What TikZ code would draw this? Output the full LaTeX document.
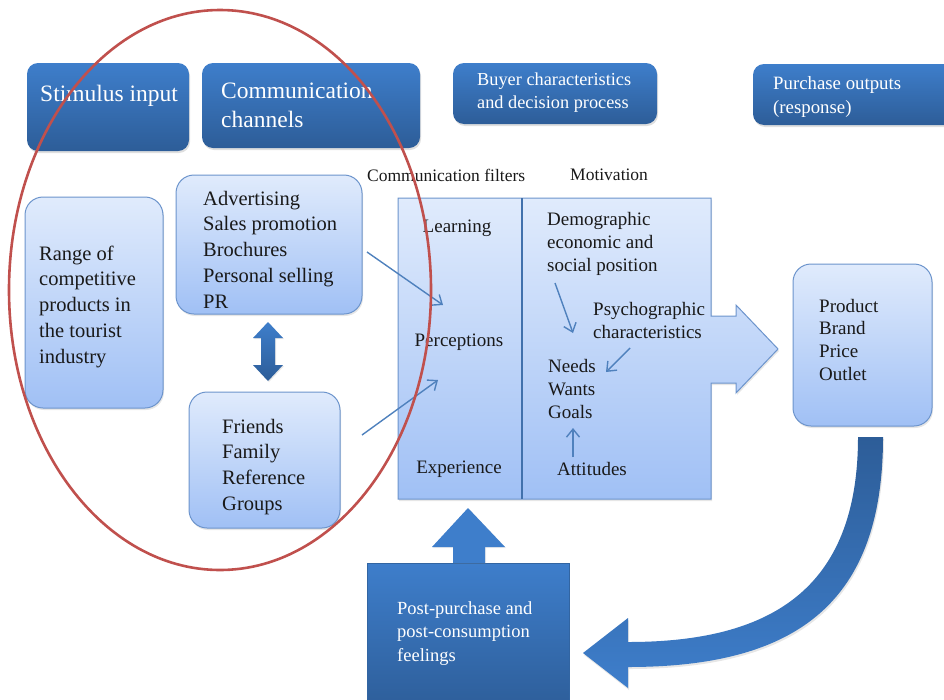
\documentclass[tikz,border=0pt]{standalone}
\usepackage{fontspec}
\setmainfont{Liberation Serif}
\usetikzlibrary{arrows.meta,shadows}
\definecolor{hdtop}{RGB}{62,126,203}
\definecolor{hdbot}{RGB}{45,93,152}
\definecolor{lttop}{RGB}{224,235,252}
\definecolor{ltbot}{RGB}{160,192,245}
\definecolor{ltborder}{RGB}{108,148,204}
\definecolor{thinc}{RGB}{79,129,189}
\definecolor{divc}{RGB}{65,113,172}
\definecolor{redring}{RGB}{192,80,77}
\definecolor{txtc}{RGB}{25,25,25}
\begin{document}
\begin{tikzpicture}[x=1pt,y=-1pt,
  hbox/.style={rectangle, rounded corners=11pt, top color=hdtop, bottom color=hdbot, draw=none,
    inner sep=0pt, outer sep=0pt, drop shadow={opacity=0.25,shadow xshift=1pt,shadow yshift=-2pt}},
  lbox/.style={rectangle, rounded corners=18pt, top color=lttop, bottom color=ltbot, draw=ltborder,
    line width=1pt, inner sep=0pt, outer sep=0pt, drop shadow={opacity=0.2,shadow xshift=1pt,shadow yshift=-2pt}},
  htxt/.style={text=white, inner sep=0pt, anchor=base west},
  body/.style={text=txtc, inner sep=0pt, anchor=base west, font=\fontsize{20.5}{26}\selectfont},
  mid/.style={text=txtc, inner sep=0pt, anchor=base west, font=\fontsize{19}{23}\selectfont},
  thinarrow/.style={draw=thinc, line width=1.4pt, -{Straight Barb[length=8pt,width=13pt]}},
  bigfill/.style={top color=hdtop, bottom color=hdbot, draw=none}
]
\useasboundingbox (0,0) rectangle (944,699);
\clip (0,0) rectangle (944,699);

% header boxes
\node[hbox, minimum width=162pt, minimum height=88pt] (stim) at (108,107) {};
\node[hbox, minimum width=218pt, minimum height=85pt] (comm) at (311,105.5) {};
\node[hbox, minimum width=204pt, minimum height=61pt] (buyer) at (555,93.5) {};
\node[hbox, minimum width=212pt, minimum height=61pt] (purch) at (859,94.5) {};

\node[htxt, font=\fontsize{23.5}{29}\selectfont] (stimT) at (40,101.7) {Stimulus input};
\node[htxt, font=\fontsize{23.5}{29}\selectfont] (commT1) at (221,98.3) {Communication};
\node[htxt, font=\fontsize{23.5}{29}\selectfont] (commT2) at (221,127) {channels};
\node[htxt, font=\fontsize{18.3}{23}\selectfont] (buyT1) at (477,85) {Buyer characteristics};
\node[htxt, font=\fontsize{18.3}{23}\selectfont] (buyT2) at (477,108) {and decision process};
\node[htxt, font=\fontsize{18.8}{23}\selectfont] (purT1) at (773,89) {Purchase outputs};
\node[htxt, font=\fontsize{18.8}{23}\selectfont] (purT2) at (773,113) {(response)};

% light boxes on the left
\node[lbox, minimum width=138pt, minimum height=211pt] (range) at (94,302.5) {};
\node[lbox, minimum width=186pt, minimum height=139pt] (adv) at (269,244.5) {};
\node[lbox, minimum width=151pt, minimum height=136pt] (friends) at (264.5,460) {};
\node[lbox, minimum width=139pt, minimum height=162pt] (product) at (862.5,345) {};

\foreach \s [count=\i] in {Range of,competitive,products in,the tourist,industry}
  \node[body] (range-\i) at (39,{260+25.8*(\i-1)}) {\s};
\foreach \s [count=\i] in {Advertising,Sales promotion,Brochures,Personal selling,PR}
  \node[body] (adv-\i) at (203,{205+25.8*(\i-1)}) {\s};
\foreach \s [count=\i] in {Friends,Family,Reference,Groups}
  \node[body] (fr-\i) at (222,{433+25.7*(\i-1)}) {\s};
\foreach \s [count=\i] in {Product,Brand,Price,Outlet}
  \node[mid] (pr-\i) at (819,{312+22.7*(\i-1)}) {\s};

% double arrow between channels
\path[bigfill, drop shadow={opacity=0.2,shadow xshift=1pt,shadow yshift=-1pt}]
  (268,322) -- (283,338) -- (275,338) -- (275,365) -- (283,365) -- (268,381)
  -- (253,365) -- (261,365) -- (261,338) -- (253,338) -- cycle;

% filters / motivation block with arrow
\path[top color=lttop, bottom color=ltbot, draw=ltborder, line width=1pt,
  drop shadow={opacity=0.2,shadow xshift=1pt,shadow yshift=-2pt}]
  (398,198) -- (711,198) -- (711,316) -- (736,316) -- (736,305) -- (778,349)
  -- (736,393) -- (736,383) -- (711,383) -- (711,499) -- (398,499) -- cycle;
\draw[divc, line width=2pt] (522,198) -- (522,499);

\node[mid, font=\fontsize{17.5}{22}\selectfont] (filtT) at (367,181) {Communication filters};
\node[mid, font=\fontsize{17.5}{22}\selectfont] (motT) at (570,180) {Motivation};

\node[mid, anchor=base] (learn) at (457,232) {Learning};
\node[mid, anchor=base] (perc) at (459,346) {Perceptions};
\node[mid, anchor=base] (exper) at (459,473) {Experience};

\foreach \s [count=\i] in {Demographic,economic and,social position}
  \node[mid] (dem-\i) at (547,{225+23*(\i-1)}) {\s};
\foreach \s [count=\i] in {Psychographic,characteristics}
  \node[mid] (psy-\i) at (593,{315+23*(\i-1)}) {\s};
\foreach \s [count=\i] in {Needs,Wants,Goals}
  \node[mid] (need-\i) at (548,{372+23*(\i-1)}) {\s};
\node[mid] (att) at (557,475) {Attitudes};

% thin arrows
\coordinate (a1s) at (367,252); \coordinate (a1e) at (443,305);
\coordinate (a2s) at (362,435); \coordinate (a2e) at (438,380);
\coordinate (a3s) at (555,283); \coordinate (a3e) at (573,333);
\coordinate (a4s) at (630,348); \coordinate (a4e) at (606,372);
\coordinate (a5s) at (573,457); \coordinate (a5e) at (573,428);
\draw[thinarrow] (a1s) -- (a1e);
\draw[thinarrow] (a2s) -- (a2e);
\draw[thinarrow] (a3s) -- (a3e);
\draw[thinarrow] (a4s) -- (a4e);
\draw[thinarrow] (a5s) -- (a5e);

% post-purchase box and up arrow
\node[rectangle, minimum width=202pt, minimum height=150pt, inner sep=0pt, outer sep=0pt,
  top color=hdtop, bottom color=hdbot, draw=hdtop!80!black, line width=0.5pt] (post) at (468,638) {};
\path[fill=hdtop, drop shadow={opacity=0.15,shadow xshift=1pt,shadow yshift=-1pt}]
  (468,508) -- (505,547) -- (485,547) -- (485,563) -- (453,563) -- (453,547) -- (432,547) -- cycle;
\foreach \s [count=\i] in {Post-purchase and,post-consumption,feelings}
  \node[htxt, font=\fontsize{18.5}{23}\selectfont] (post-\i) at (397,{614+23.5*(\i-1)}) {\s};

% curved feedback arrow
\path[top color=hdbot, bottom color=hdtop, draw=none,
  drop shadow={opacity=0.2,shadow xshift=1pt,shadow yshift=-2pt}]
  (858,437) -- (883,437) .. controls (883,600) and (800,667) .. (628,667)
  -- (628,688) -- (583,653) -- (628,618) -- (628,642)
  .. controls (770,642) and (858,590) .. (858,437) -- cycle;

% red ring
\draw[redring, line width=2.6pt] (220,290) ellipse [x radius=211, y radius=280];
\end{tikzpicture}
\end{document}
